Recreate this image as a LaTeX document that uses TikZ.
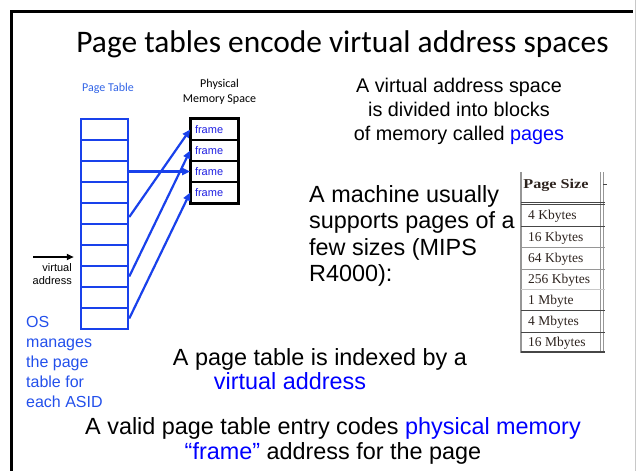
\documentclass[tikz,border=0pt]{standalone}
\usepackage{fontspec}
\setmainfont{Liberation Sans}
\newfontfamily\calfont{Carlito}
\newfontfamily\serfont{Liberation Serif}
\newfontfamily\serheadfont[FakeStretch=1.2]{Liberation Serif}
\usetikzlibrary{arrows.meta,calc}

\definecolor{ptblue}{RGB}{25,65,235}
\definecolor{osblue}{RGB}{35,80,235}
\definecolor{lblblue}{RGB}{50,100,230}
\definecolor{hlblue}{RGB}{0,0,255}
\definecolor{frameblue}{RGB}{30,30,225}
\definecolor{tabink}{RGB}{45,35,30}
\definecolor{tabgray}{RGB}{150,150,150}
\definecolor{tabdark}{RGB}{70,70,70}
\definecolor{edgegray}{RGB}{200,200,200}

\newcommand\fsz[2]{\fontsize{#1}{#2}\selectfont}

\begin{document}
\begin{tikzpicture}[x=1pt,y=-1pt,
  every node/.style={inner sep=0pt},
  ptrow/.style={draw=ptblue, line width=2.5pt, minimum width=47pt, minimum height=21pt},
  framebox/.style={draw=black, line width=1.6pt, minimum height=21pt, text width=39pt,
    inner xsep=4pt, align=left, font=\fsz{11}{13}, text=frameblue},
  maplink/.style={draw=ptblue, line width=2.2pt, -{Triangle[length=8pt,width=7pt]}},
  body/.style={anchor=base, font=\fsz{23.4}{26}},
  bodyleft/.style={anchor=base west, font=\fsz{23.4}{26}},
  smallbody/.style={anchor=base, font=\fsz{19.8}{24}},
  osnote/.style={anchor=base west, font=\fsz{16}{20}, text=osblue},
  tinylabel/.style={anchor=base east, font=\fsz{11}{13}},
  tabrow/.style={anchor=base west, font=\serfont\fsz{13.5}{15}, text=tabink},
  tabthin/.style={draw=tabgray, line width=0.8pt},
  tabrule/.style={draw=tabdark, line width=1pt}]

\useasboundingbox (0,0) rectangle (637,471);

% slide frame
\draw[line width=3pt] (11.5,471) -- (11.5,11.5) -- (633,11.5);
\draw[edgegray, line width=1pt] (635.5,0) -- (635.5,471);

% title
\node[anchor=base, font=\calfont\fsz{31.4}{36}] (title) at (342.5,52)
  {Page tables encode virtual address spaces};

% column headings
\node[anchor=base, font=\calfont\fsz{12}{14}, text=lblblue] (ptlabel) at (108,91) {Page Table};
\node[anchor=base, font=\calfont\fsz{12}{14}] (phys1) at (219.5,87) {Physical};
\node[anchor=base, font=\calfont\fsz{12}{14}] (phys2) at (219.5,102) {Memory Space};

% page table rows
\foreach \i in {1,...,10} {
  \node[ptrow] (pt\i) at (104.5,{108.5+21*\i}) {};
}

% physical frames
\foreach \i in {1,...,4} {
  \node[framebox] (f\i) at (214.5,{108.5+21*\i}) {frame};
}
\draw[line width=3pt] (f1.north west) rectangle (f4.south east);

% page table entries pointing at frames
\draw[maplink] (pt3.east) -- (f3.west);
\draw[maplink] ([yshift=-3.5pt]pt5.east) -- (f1.west);
\draw[maplink] (pt8.east) -- (f2.west);
\draw[maplink] (pt10.east) -- (f4.west);

% virtual address input
\coordinate (va) at (33,257);
\draw[line width=1.6pt, -{Triangle[length=7pt,width=6pt]}] (va) -- ($(pt7.west|-va)+(-6,0)$);
\node[tinylabel] (valbl1) at (72,271) {virtual};
\node[tinylabel] (valbl2) at (72,284) {address};

% OS note
\node[osnote] (os1) at (26,327) {OS};
\node[osnote] (os2) at (26,347) {manages};
\node[osnote] (os3) at (26,367) {the page};
\node[osnote] (os4) at (26,387) {table for};
\node[osnote] (os5) at (26,407) {each ASID};

% explanatory text
\node[smallbody] (vas1) at (459,92) {A virtual address space};
\node[smallbody] (vas2) at (459,116) {is divided into blocks};
\node[smallbody] (vas3) at (459,140) {of memory called \textcolor{hlblue}{pages}};

\node[bodyleft] (mach1) at (309,202) {A machine usually};
\node[bodyleft] (mach2) at (309,228.5) {supports pages of a};
\node[bodyleft] (mach3) at (309,255) {few sizes (MIPS};
\node[bodyleft] (mach4) at (309,281.5) {R4000):};

\node[body] (idx1) at (320,365) {A page table is indexed by a};
\node[body, text=hlblue] (idx2) at (290,389) {virtual address};

\node[body] (pte1) at (333,434) {A valid page table entry codes \textcolor{hlblue}{physical memory}};
\node[body] (pte2) at (333,459) {\textcolor{hlblue}{“frame”} address for the page};

% MIPS R4000 page size table
\draw[tabgray, line width=1.5pt] (521,172) -- (521,353);
\draw[tabgray, line width=1pt] (600.5,172) -- (600.5,353);
\draw[tabgray, line width=1pt] (603.5,172) -- (603.5,353);
\draw[tabrule] (521,202) -- (605,202);
\draw[tabrule] (521,204.5) -- (605,204.5);
\draw[tabrule] (521,226) -- (605,226);
\draw[tabthin] (521,247) -- (605,247);
\draw[tabthin] (521,269) -- (605,269);
\draw[tabthin, draw=edgegray] (521,289) -- (605,289);
\draw[tabrule] (521,310) -- (605,310);
\draw[tabrule] (521,332) -- (605,332);
\draw[tabdark, line width=2.5pt] (521,352) -- (605,352);
\draw[tabdark, line width=1pt] (603,184) -- (607,184);

\node[anchor=base, font=\serheadfont\bfseries\fsz{13.5}{15}, text=tabink] (tabhead) at (556,188.5) {Page Size};
\node[tabrow] (sz1) at (528,219.5) {4 Kbytes};
\node[tabrow] (sz2) at (528,241) {16 Kbytes};
\node[tabrow] (sz3) at (528,262.5) {64 Kbytes};
\node[tabrow] (sz4) at (528,283.5) {256 Kbytes};
\node[tabrow] (sz5) at (528,304) {1 Mbyte};
\node[tabrow] (sz6) at (528,325.5) {4 Mbytes};
\node[tabrow] (sz7) at (528,346.5) {16 Mbytes};

\end{tikzpicture}
\end{document}
